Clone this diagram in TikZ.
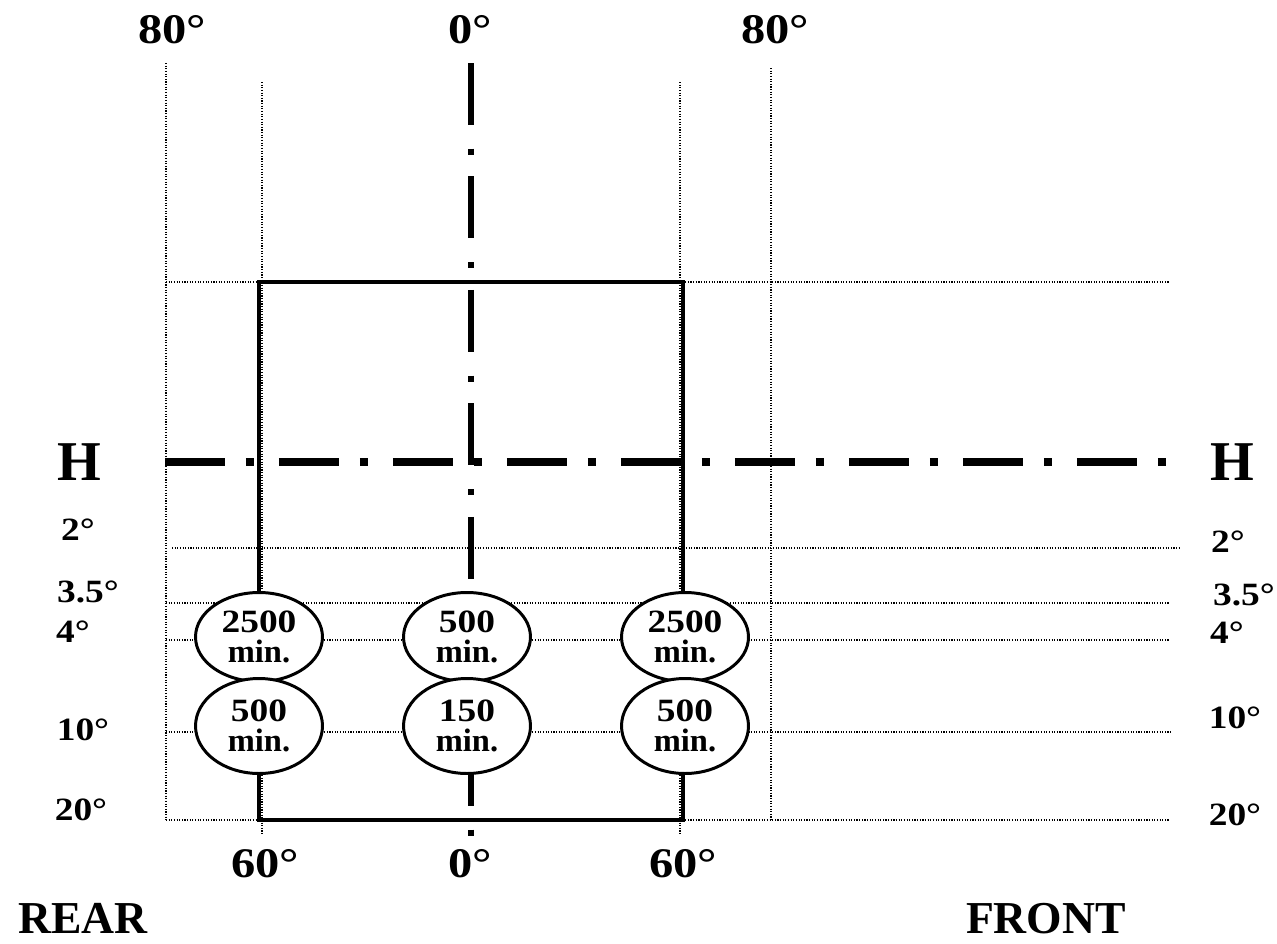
\documentclass[tikz,border=0pt]{standalone}
\usepackage{graphicx}
\usepackage{fontspec}
\setmainfont{Liberation Serif}
\usetikzlibrary{shapes.geometric}
\newcommand\stretchx[1]{\scalebox{1.15}[1]{#1}}
\begin{document}
\begin{tikzpicture}[x=0.02cm,y=-0.02cm,
  grid/.style={line width=0.65pt, dash pattern=on 0.65pt off 0.85pt},
  frame/.style={line width=2.4pt},
  axis/.style={line width=3.4pt, dash pattern=on 1.24cm off 0.475cm on 0.12cm off 0.435cm},
  hline/.style={line width=4.2pt, dash pattern=on 1.2cm off 0.42cm on 0.16cm off 0.5cm},
  oval/.style={ellipse, draw, line width=1.7pt, fill=white, minimum width=2.54cm, inner sep=0pt, align=center, font=\fontsize{18.5}{17.5}\selectfont\bfseries},
  big/.style={anchor=base, inner sep=0pt, font=\fontsize{24}{24}\selectfont\bfseries},
  small/.style={anchor=base, inner sep=0pt, font=\fontsize{18.5}{18.5}\selectfont\bfseries},
  hfont/.style={anchor=base, inner sep=0pt, font=\fontsize{32}{32}\selectfont\bfseries},
  side/.style={anchor=base, inner sep=0pt, font=\fontsize{26}{26}\selectfont\bfseries}]
\useasboundingbox (0,0) rectangle (1277,943);
% vertical dotted lines
\draw[grid] (166,63) -- (166,820);
\draw[grid] (262,82) -- (262,835);
\draw[grid] (680,82) -- (680,835);
\draw[grid] (771,68) -- (771,820);
% horizontal dotted lines
\draw[grid] (166,282) -- (1170,282);
\draw[grid] (172,548) -- (1180,548);
\draw[grid] (166,603) -- (1170,603);
\draw[grid] (166,640) -- (1170,640);
\draw[grid] (166,732) -- (1172,732);
\draw[grid] (166,820) -- (1170,820);
% frame
\draw[frame] (259,282) rectangle (683,820);
% centre axis and H line
\draw[axis] (471,63) -- (471,836);
\draw[hline] (165,462) -- (1170,462);
% ovals
\node[oval, minimum height=1.78cm] (o1) at (259,637) {\stretchx{2500}\\min.};
\node[oval, minimum height=1.78cm] (o2) at (467,637) {\stretchx{500}\\min.};
\node[oval, minimum height=1.78cm] (o3) at (685,637) {\stretchx{2500}\\min.};
\node[oval, minimum height=1.9cm] (o4) at (259,726) {\stretchx{500}\\min.};
\node[oval, minimum height=1.9cm] (o5) at (467,726) {\stretchx{150}\\min.};
\node[oval, minimum height=1.9cm] (o6) at (685,726) {\stretchx{500}\\min.};
% top labels
\node[big] (t1) at (172,43) {\stretchx{80°}};
\node[big] (t2) at (470,43) {\stretchx{0°}};
\node[big] (t3) at (775,43) {\stretchx{80°}};
% bottom labels
\node[big] (b1) at (265,877) {\stretchx{60°}};
\node[big] (b2) at (470,877) {\stretchx{0°}};
\node[big] (b3) at (683,877) {\stretchx{60°}};
% H labels
\node[hfont] (h1) at (79,480) {H};
\node[hfont] (h2) at (1232,480) {H};
% left labels
\node[small] (l1) at (78,540) {\stretchx{2°}};
\node[small] (l2) at (88,602) {\stretchx{3.5°}};
\node[small] (l3) at (73,642) {\stretchx{4°}};
\node[small] (l4) at (83,740) {\stretchx{10°}};
\node[small] (l5) at (81,820) {\stretchx{20°}};
% right labels
\node[small] (r1) at (1228,552) {\stretchx{2°}};
\node[small] (r2) at (1244,605) {\stretchx{3.5°}};
\node[small] (r3) at (1227,643) {\stretchx{4°}};
\node[small] (r4) at (1235,728) {\stretchx{10°}};
\node[small] (r5) at (1235,825) {\stretchx{20°}};
% rear / front
\node[side] (rear) at (83,933) {REAR};
\node[side] (front) at (1046,933) {FRONT};
\end{tikzpicture}
\end{document}
